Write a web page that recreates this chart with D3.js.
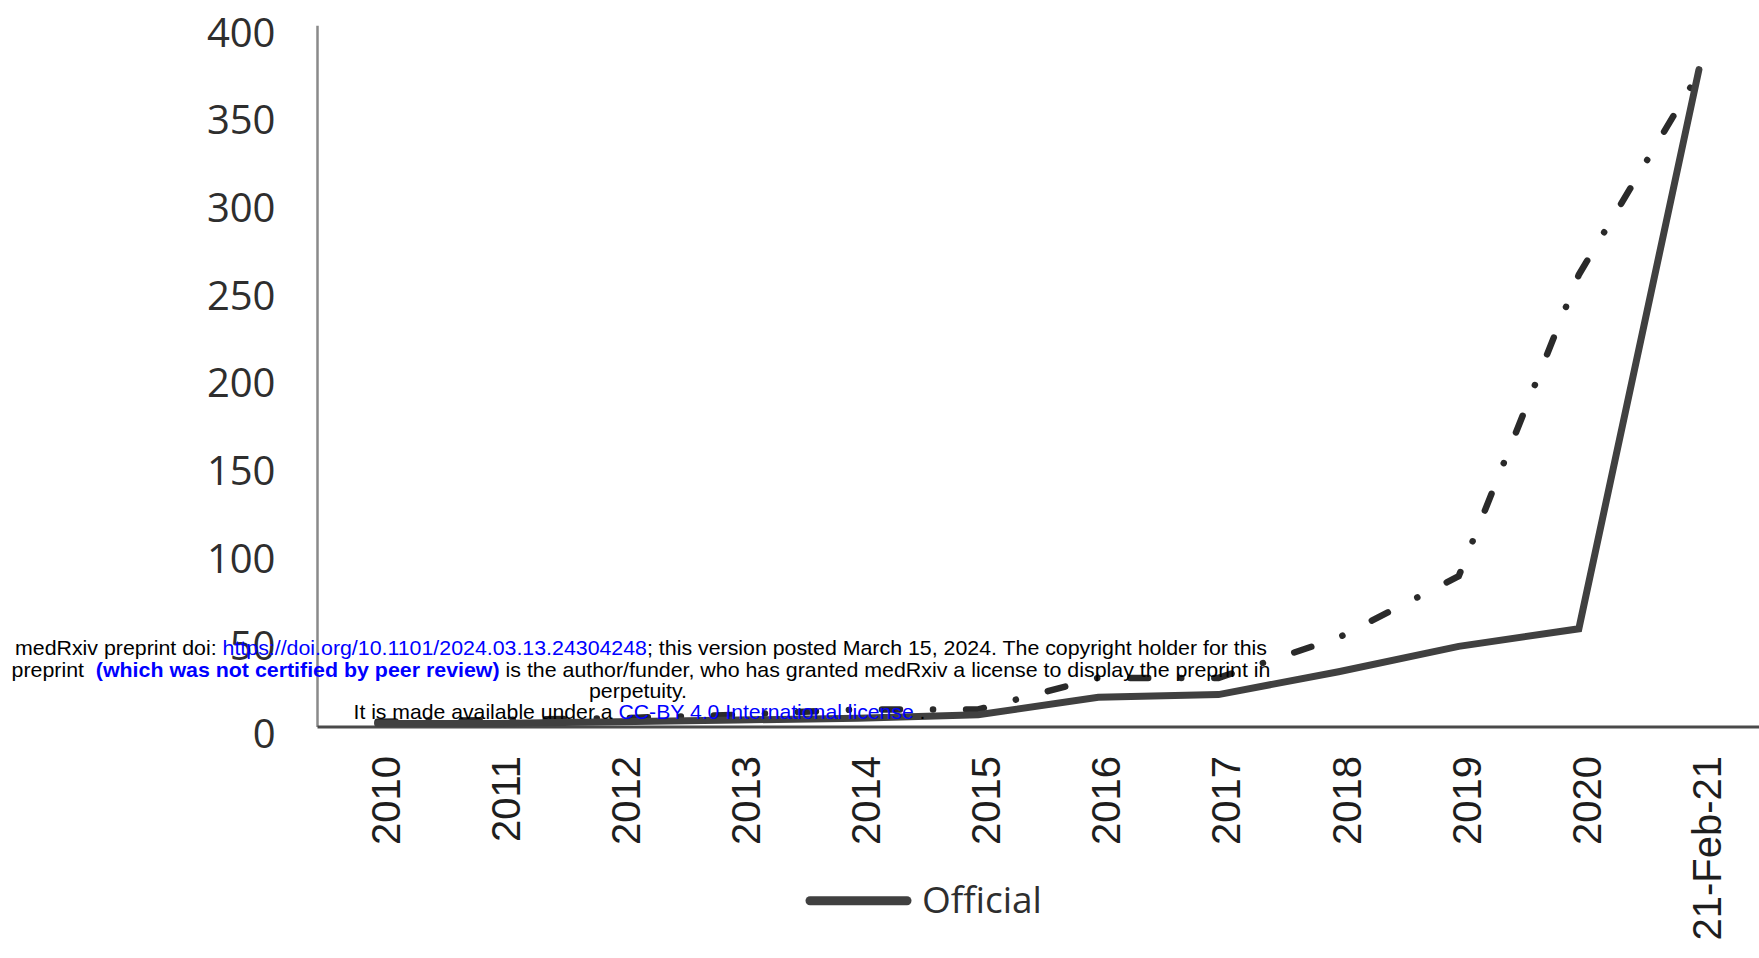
<!DOCTYPE html>
<html lang="en">
<head>
    <meta charset="UTF-8" />
    <title>Official counts 2010 - Feb 2021</title>
    <script src="https://d3js.org/d3.v7.min.js"></script>
    <style>
        body {
            margin: 0;
            background: #fff;
        }
        svg {
            display: block;
        }
        .ylab text {
            font-family: "Open Sans", sans-serif;
            font-size: 40px;
            fill: #2e2e2e;
        }
        .xlab text {
            font-family: "Liberation Sans", Arial, sans-serif;
            font-size: 40px;
            fill: #1e1e1e;
        }
        .note {
            font-family: "Liberation Sans", Arial, sans-serif;
            font-size: 21px;
            fill: #000;
        }
        .note .link { fill: #0000ff; }
        .note .bold { font-weight: bold; }
    </style>
</head>
<body>
    <svg id="chart"></svg>

    <script>
        // values
        const categories = ["2010", "2011", "2012", "2013", "2014", "2015", "2016",
                            "2017", "2018", "2019", "2020", "21-Feb-21"];
        const officialValues = [2, 2, 3, 4, 5, 7, 17, 18.5, 31.5, 46, 56, 375];
        const dashDotValues = [3, 4, 5, 7, 10, 10, 28, 28, 51, 86, 258, 373];
        const yTicks = [0, 50, 100, 150, 200, 250, 300, 350, 400];

        const width = 1759;
        const height = 958;

        const svg = d3.select("#chart")
            .attr("width", width)
            .attr("height", height);

        const x = d3.scaleBand()
            .domain(categories)
            .range([317.5, 1759]);

        const y = d3.scaleLinear()
            .domain([0, 400])
            .range([727, 25.8]);

        const cx = c => x(c) + x.bandwidth() / 2;

        // y axis labels
        const yAxis = svg.append("g")
            .attr("class", "ylab")
            .attr("transform", "translate(317.5,0)")
            .call(d3.axisLeft(y).tickValues(yTicks).tickSize(0).tickPadding(42));
        yAxis.select(".domain").remove();
        yAxis.selectAll("text").attr("transform", "translate(0,7.5)");

        // x axis labels, rotated
        const xAxis = svg.append("g")
            .attr("class", "xlab")
            .attr("transform", "translate(0,727)")
            .call(d3.axisBottom(x).tickSize(0));
        xAxis.select(".domain").remove();
        xAxis.selectAll("text")
            .attr("y", 0)
            .attr("dy", "0.35em")
            .attr("text-anchor", "end")
            .attr("transform", "translate(8,29) rotate(-90)");

        // axis lines
        svg.append("line")
            .attr("x1", 317.5).attr("x2", 317.5)
            .attr("y1", y(400)).attr("y2", y(0))
            .attr("stroke", "#8a8a8a")
            .attr("stroke-width", 2.5);

        svg.append("line")
            .attr("x1", 317.5).attr("x2", width)
            .attr("y1", y(0)).attr("y2", y(0))
            .attr("stroke", "#4a4a4a")
            .attr("stroke-width", 3);

        const line = d3.line()
            .x((d, i) => cx(categories[i]))
            .y(d => y(d));

        // dash-dot series
        svg.append("path")
            .datum(dashDotValues)
            .attr("d", line)
            .attr("fill", "none")
            .attr("stroke", "#2a2a2a")
            .attr("stroke-width", 6.5)
            .attr("stroke-linecap", "round")
            .attr("stroke-dasharray", "18,33,0.1,33");

        // Official series
        svg.append("path")
            .datum(officialValues)
            .attr("d", line)
            .attr("fill", "none")
            .attr("stroke", "#404040")
            .attr("stroke-width", 7)
            .attr("stroke-linecap", "round")
            .attr("stroke-linejoin", "miter");

        // legend
        const legend = svg.append("g").attr("transform", "translate(810,900.7)");
        legend.append("line")
            .attr("x1", 0).attr("x2", 97)
            .attr("stroke", "#404040")
            .attr("stroke-width", 9)
            .attr("stroke-linecap", "round");
        legend.append("text")
            .attr("x", 112)
            .attr("y", 12)
            .attr("font-family", "'Open Sans', sans-serif")
            .attr("font-size", 37)
            .attr("fill", "#2e2e2e")
            .text("Official");

        // preprint notice printed over the figure
        const noteLines = [
            { x: 641, y: 655, len: 1252, parts: [
                { t: "medRxiv preprint doi: " },
                { t: "https://doi.org/10.1101/2024.03.13.24304248", c: "link" },
                { t: "; this version posted March 15, 2024. The copyright holder for this" }
            ]},
            { x: 641, y: 676.5, len: 1259, parts: [
                { t: "preprint\u00a0 " },
                { t: "(which was not certified by peer review)", c: "link bold" },
                { t: " is the author/funder, who has granted medRxiv a license to display the preprint in" }
            ]},
            { x: 638, y: 698, len: 98, parts: [{ t: "perpetuity." }] },
            { x: 639.5, y: 719, len: 572, parts: [
                { t: "It is made available under a " },
                { t: "CC-BY 4.0 International license", c: "link" },
                { t: " ." }
            ]}
        ];

        noteLines.forEach(l => {
            const t = svg.append("text")
                .attr("class", "note")
                .attr("x", l.x)
                .attr("y", l.y)
                .attr("text-anchor", "middle")
                .attr("textLength", l.len)
                .attr("lengthAdjust", "spacingAndGlyphs");
            l.parts.forEach(p => {
                t.append("tspan").attr("class", p.c || null).text(p.t);
            });
        });
    </script>
</body>
</html>
